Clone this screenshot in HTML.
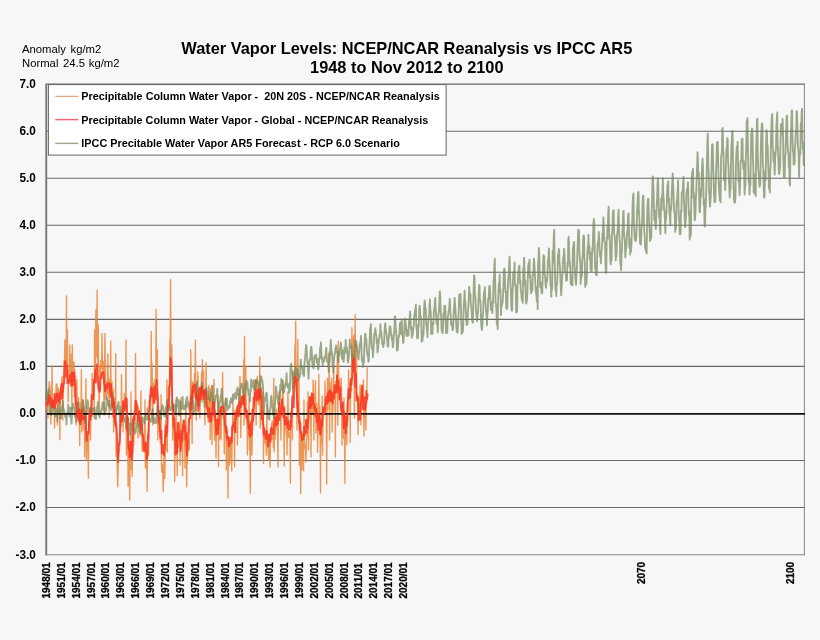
<!DOCTYPE html>
<html><head><meta charset="utf-8"><title>Water Vapor Levels</title>
<style>
html,body{margin:0;padding:0;background:#f7f7f7;}
body{width:820px;height:640px;overflow:hidden;}
svg{display:block;font-family:"Liberation Sans",sans-serif;}
.t{font-weight:bold;font-size:15.7px;fill:#000;}
.n{font-size:11.3px;fill:#000;}
.yl text{font-weight:bold;font-size:11.5px;fill:#000;}
.xl text{font-weight:bold;font-size:10px;fill:#000;stroke:#000;stroke-width:0.25px;}
.lg text{font-weight:bold;font-size:10.9px;fill:#000;}
.grid line{stroke:#686868;stroke-width:1.1;}
</style></head><body>
<svg width="820" height="640" viewBox="0 0 820 640">
<defs><filter id="soft" x="-2%" y="-2%" width="104%" height="104%"><feGaussianBlur stdDeviation="0.45"/></filter></defs>
<rect width="820" height="640" fill="#f7f7f7"/>
<g filter="url(#soft)">
<text class="t" x="406.8" y="53.5" text-anchor="middle" textLength="451" lengthAdjust="spacingAndGlyphs">Water Vapor Levels: NCEP/NCAR Reanalysis vs IPCC AR5</text>
<text class="t" x="406.8" y="73.1" text-anchor="middle" textLength="193.5" lengthAdjust="spacingAndGlyphs">1948 to Nov 2012 to 2100</text>
<text class="n" y="53.2"><tspan x="22">Anomaly</tspan> <tspan x="70.5">kg/m2</tspan></text>
<text class="n" y="67.1"><tspan x="22">Normal</tspan> <tspan x="63">24.5</tspan> <tspan x="88.8">kg/m2</tspan></text>
<g class="grid"><line x1="46" x2="804.9" y1="507.51" y2="507.51"/><line x1="46" x2="804.9" y1="460.47" y2="460.47"/><line x1="46" x2="804.9" y1="366.39" y2="366.39"/><line x1="46" x2="804.9" y1="319.35" y2="319.35"/><line x1="46" x2="804.9" y1="272.31" y2="272.31"/><line x1="46" x2="804.9" y1="225.27" y2="225.27"/><line x1="46" x2="804.9" y1="178.23" y2="178.23"/><line x1="46" x2="804.9" y1="131.19" y2="131.19"/><line x1="46" x2="804.9" y1="84.15" y2="84.15"/><line x1="45.5" x2="804.9" y1="554.7" y2="554.7" style="stroke:#888"/></g>
<line x1="804.4" x2="804.4" y1="83.7" y2="555.2" stroke="#888" stroke-width="1"/>
<line x1="46.25" x2="46.25" y1="83.7" y2="555.2" stroke="#787878" stroke-width="1.9"/>
<g fill="none" stroke-linejoin="round" stroke-linecap="round">
<path d="M46.3,402.2 L46.7,408.0 L47.1,399.6 L47.5,406.1 L48.0,418.0 L48.4,393.1 L48.8,389.8 L49.2,381.6 L49.6,395.4 L50.0,386.3 L50.4,391.8 L50.8,424.0 L51.3,399.8 L51.7,392.1 L52.1,366.0 L52.5,407.7 L52.9,407.4 L53.3,399.5 L53.7,408.7 L54.1,400.8 L54.6,428.0 L55.0,404.5 L55.4,396.0 L55.8,398.1 L56.2,384.1 L56.6,397.1 L57.0,384.0 L57.4,425.0 L57.9,391.2 L58.3,388.3 L58.7,398.6 L59.1,394.7 L59.5,397.6 L59.9,439.5 L60.3,390.0 L60.8,395.4 L61.2,392.6 L61.6,381.6 L62.0,378.0 L62.4,376.3 L62.8,420.0 L63.2,378.7 L63.6,376.0 L64.1,360.5 L64.5,360.7 L64.9,340.0 L65.3,363.8 L65.7,354.1 L66.1,363.3 L66.5,295.8 L66.9,365.8 L67.4,330.0 L67.8,370.8 L68.2,402.0 L68.6,371.0 L69.0,371.9 L69.4,368.5 L69.8,345.0 L70.3,382.1 L70.7,361.5 L71.1,370.2 L71.5,354.2 L71.9,410.0 L72.3,345.0 L72.7,373.6 L73.1,362.4 L73.6,371.8 L74.0,362.0 L74.4,397.1 L74.8,369.8 L75.2,382.9 L75.6,375.8 L76.0,425.0 L76.4,398.3 L76.9,380.0 L77.3,411.1 L77.7,413.5 L78.1,411.7 L78.5,397.6 L78.9,414.4 L79.3,418.1 L79.7,445.4 L80.2,402.5 L80.6,414.7 L81.0,416.0 L81.4,369.6 L81.8,432.0 L82.2,405.0 L82.6,400.0 L83.1,401.5 L83.5,430.1 L83.9,406.8 L84.3,413.9 L84.7,457.0 L85.1,412.8 L85.5,417.8 L85.9,379.0 L86.4,460.0 L86.8,439.3 L87.2,451.1 L87.6,437.3 L88.0,447.1 L88.4,478.2 L88.8,421.5 L89.2,430.4 L89.7,423.3 L90.1,408.9 L90.5,440.0 L90.9,416.6 L91.3,394.4 L91.7,412.6 L92.1,373.5 L92.6,392.8 L93.0,380.1 L93.4,389.7 L93.8,385.7 L94.2,418.0 L94.6,330.0 L95.0,380.2 L95.4,355.8 L95.9,310.0 L96.3,337.0 L96.7,357.1 L97.1,290.0 L97.5,359.0 L97.9,370.9 L98.3,325.0 L98.7,383.7 L99.2,410.0 L99.6,381.7 L100.0,365.1 L100.4,379.2 L100.8,360.3 L101.2,361.9 L101.6,368.0 L102.0,333.5 L102.5,372.3 L102.9,370.6 L103.3,361.2 L103.7,372.6 L104.1,415.0 L104.5,382.6 L104.9,333.5 L105.4,368.7 L105.8,399.1 L106.2,385.3 L106.6,381.6 L107.0,393.4 L107.4,394.9 L107.8,354.0 L108.2,386.4 L108.7,383.0 L109.1,418.0 L109.5,379.0 L109.9,381.9 L110.3,388.1 L110.7,341.0 L111.1,393.6 L111.5,394.7 L112.0,381.4 L112.4,398.5 L112.8,396.7 L113.2,389.3 L113.6,432.0 L114.0,398.0 L114.4,401.3 L114.8,425.4 L115.3,414.1 L115.7,353.6 L116.1,455.0 L116.5,457.0 L116.9,447.9 L117.3,472.7 L117.7,486.8 L118.2,467.0 L118.6,449.7 L119.0,452.6 L119.4,450.0 L119.8,445.4 L120.2,437.1 L120.6,419.3 L121.0,426.8 L121.5,374.5 L121.9,411.8 L122.3,420.1 L122.7,400.6 L123.1,432.0 L123.5,405.5 L123.9,411.5 L124.3,393.4 L124.8,396.4 L125.2,406.9 L125.6,397.7 L126.0,340.0 L126.4,455.0 L126.8,403.6 L127.2,425.9 L127.7,428.5 L128.1,486.4 L128.5,447.3 L128.9,444.8 L129.3,448.7 L129.7,500.0 L130.1,458.0 L130.5,462.0 L131.0,392.0 L131.4,470.0 L131.8,437.7 L132.2,476.6 L132.6,434.6 L133.0,452.2 L133.4,417.5 L133.8,445.0 L134.3,414.6 L134.7,424.4 L135.1,423.9 L135.5,353.6 L135.9,404.8 L136.3,409.7 L136.7,402.1 L137.1,403.4 L137.6,405.3 L138.0,438.0 L138.4,407.3 L138.8,427.5 L139.2,418.1 L139.6,413.7 L140.0,436.1 L140.5,430.0 L140.9,391.0 L141.3,431.7 L141.7,420.6 L142.1,451.0 L142.5,433.5 L142.9,438.6 L143.3,451.3 L143.8,440.0 L144.2,452.2 L144.6,438.4 L145.0,400.0 L145.4,468.0 L145.8,452.5 L146.2,453.4 L146.6,450.1 L147.1,491.3 L147.5,452.0 L147.9,449.4 L148.3,430.8 L148.7,455.0 L149.1,418.5 L149.5,415.5 L150.0,394.8 L150.4,410.3 L150.8,403.3 L151.2,331.5 L151.6,385.0 L152.0,362.7 L152.4,381.4 L152.8,425.0 L153.3,383.2 L153.7,401.7 L154.1,387.7 L154.5,397.5 L154.9,379.0 L155.3,392.1 L155.7,382.7 L156.1,309.5 L156.6,373.6 L157.0,383.7 L157.4,350.0 L157.8,440.0 L158.2,396.5 L158.6,423.2 L159.0,411.4 L159.4,431.7 L159.9,422.1 L160.3,443.9 L160.7,431.7 L161.1,395.0 L161.5,468.0 L161.9,472.3 L162.3,464.0 L162.8,471.4 L163.2,491.9 L163.6,475.9 L164.0,452.0 L164.4,459.7 L164.8,478.6 L165.2,456.8 L165.6,420.3 L166.1,450.3 L166.5,436.3 L166.9,380.0 L167.3,452.0 L167.7,407.7 L168.1,406.3 L168.5,385.4 L168.9,385.3 L169.4,396.0 L169.8,340.0 L170.2,341.7 L170.6,279.4 L171.0,367.0 L171.4,381.0 L171.8,345.0 L172.2,379.5 L172.7,440.0 L173.1,408.5 L173.5,420.7 L173.9,413.1 L174.3,436.7 L174.7,481.5 L175.1,441.9 L175.6,452.7 L176.0,400.0 L176.4,443.6 L176.8,434.0 L177.2,475.7 L177.6,438.5 L178.0,436.0 L178.4,447.1 L178.9,422.3 L179.3,427.1 L179.7,425.9 L180.1,465.0 L180.5,423.6 L180.9,398.0 L181.3,448.5 L181.7,444.4 L182.2,437.6 L182.6,475.7 L183.0,433.5 L183.4,420.4 L183.8,425.2 L184.2,429.3 L184.6,440.7 L185.1,468.0 L185.5,435.6 L185.9,402.0 L186.3,459.6 L186.7,486.8 L187.1,450.6 L187.5,463.7 L187.9,440.1 L188.4,444.1 L188.8,440.8 L189.2,450.0 L189.6,417.0 L190.0,403.8 L190.4,399.1 L190.8,349.7 L191.2,387.4 L191.7,384.3 L192.1,443.4 L192.5,381.9 L192.9,384.9 L193.3,398.2 L193.7,382.5 L194.1,396.1 L194.5,373.2 L195.0,377.9 L195.4,340.0 L195.8,397.3 L196.2,420.0 L196.6,384.0 L197.0,405.2 L197.4,387.6 L197.9,372.0 L198.3,406.3 L198.7,393.3 L199.1,398.7 L199.5,394.5 L199.9,418.0 L200.3,388.5 L200.7,388.0 L201.2,387.0 L201.6,372.2 L202.0,402.3 L202.4,359.8 L202.8,370.5 L203.2,379.1 L203.6,371.0 L204.0,393.6 L204.5,391.8 L204.9,425.0 L205.3,389.2 L205.7,399.0 L206.1,362.8 L206.5,405.1 L206.9,397.7 L207.4,412.4 L207.8,395.5 L208.2,422.2 L208.6,385.5 L209.0,420.7 L209.4,405.8 L209.8,388.0 L210.2,439.5 L210.7,398.6 L211.1,426.7 L211.5,392.6 L211.9,444.4 L212.3,407.1 L212.7,409.8 L213.1,385.5 L213.5,397.6 L214.0,379.4 L214.4,440.0 L214.8,411.4 L215.2,432.0 L215.6,414.4 L216.0,458.0 L216.4,426.4 L216.8,428.8 L217.3,426.7 L217.7,427.2 L218.1,396.0 L218.5,466.5 L218.9,422.2 L219.3,422.6 L219.7,438.8 L220.2,418.0 L220.6,406.9 L221.0,440.0 L221.4,419.6 L221.8,410.8 L222.2,408.9 L222.6,372.5 L223.0,411.0 L223.5,418.8 L223.9,412.6 L224.3,454.0 L224.7,416.8 L225.1,425.9 L225.5,429.0 L225.9,398.0 L226.3,470.0 L226.8,431.4 L227.2,441.4 L227.6,429.8 L228.0,498.0 L228.4,447.2 L228.8,454.2 L229.2,440.4 L229.6,465.0 L230.1,459.8 L230.5,449.3 L230.9,442.1 L231.3,438.0 L231.7,471.0 L232.1,444.9 L232.5,431.1 L233.0,400.0 L233.4,430.2 L233.8,423.9 L234.2,426.5 L234.6,467.0 L235.0,409.9 L235.4,427.3 L235.8,411.0 L236.3,432.6 L236.7,408.0 L237.1,425.3 L237.5,445.0 L237.9,408.6 L238.3,412.2 L238.7,402.3 L239.1,393.3 L239.6,402.4 L240.0,376.4 L240.4,406.9 L240.8,437.6 L241.2,408.3 L241.6,396.1 L242.0,398.9 L242.5,402.3 L242.9,405.0 L243.3,382.1 L243.7,360.0 L244.1,425.0 L244.5,336.4 L244.9,404.9 L245.3,411.2 L245.8,366.0 L246.2,408.6 L246.6,418.2 L247.0,424.0 L247.4,455.0 L247.8,431.7 L248.2,414.2 L248.6,435.1 L249.1,398.0 L249.5,450.6 L249.9,432.8 L250.3,493.2 L250.7,420.4 L251.1,436.9 L251.5,430.3 L251.9,455.0 L252.4,431.4 L252.8,425.1 L253.2,408.0 L253.6,417.4 L254.0,413.3 L254.4,396.1 L254.8,380.0 L255.3,408.5 L255.7,379.7 L256.1,425.0 L256.5,393.8 L256.9,400.2 L257.3,376.3 L257.7,395.3 L258.1,403.7 L258.6,404.7 L259.0,403.0 L259.4,390.7 L259.8,357.0 L260.2,428.0 L260.6,389.2 L261.0,418.5 L261.4,387.4 L261.9,413.9 L262.3,424.8 L262.7,412.4 L263.1,392.0 L263.5,463.4 L263.9,425.9 L264.3,430.3 L264.8,433.6 L265.2,443.5 L265.6,442.2 L266.0,444.3 L266.4,455.0 L266.8,404.0 L267.2,436.9 L267.6,446.0 L268.1,448.2 L268.5,458.7 L268.9,460.2 L269.3,434.7 L269.7,443.5 L270.1,467.0 L270.5,438.6 L270.9,433.3 L271.4,423.9 L271.8,439.4 L272.2,420.7 L272.6,422.9 L273.0,430.6 L273.4,447.7 L273.8,378.4 L274.2,452.0 L274.7,416.3 L275.1,439.5 L275.5,433.6 L275.9,426.5 L276.3,409.1 L276.7,429.3 L277.1,418.8 L277.6,429.2 L278.0,467.0 L278.4,406.4 L278.8,420.6 L279.2,392.0 L279.6,404.3 L280.0,397.6 L280.4,390.7 L280.9,440.0 L281.3,402.8 L281.7,408.0 L282.1,408.7 L282.5,405.0 L282.9,380.0 L283.3,408.6 L283.7,409.1 L284.2,466.0 L284.6,406.2 L285.0,424.5 L285.4,412.9 L285.8,424.7 L286.2,433.7 L286.6,424.2 L287.0,455.0 L287.5,423.2 L287.9,392.0 L288.3,413.5 L288.7,437.4 L289.1,436.6 L289.5,434.5 L289.9,432.6 L290.4,483.0 L290.8,411.8 L291.2,414.2 L291.6,419.4 L292.0,408.3 L292.4,440.0 L292.8,372.0 L293.2,394.8 L293.7,385.7 L294.1,373.3 L294.5,382.4 L294.9,345.0 L295.3,359.4 L295.7,321.2 L296.1,380.3 L296.5,386.7 L297.0,430.0 L297.4,398.6 L297.8,339.3 L298.2,396.6 L298.6,411.0 L299.0,380.0 L299.4,465.0 L299.9,416.6 L300.3,449.7 L300.7,493.8 L301.1,432.1 L301.5,454.4 L301.9,470.0 L302.3,446.5 L302.7,434.3 L303.2,444.3 L303.6,470.8 L304.0,400.0 L304.4,446.2 L304.8,443.4 L305.2,448.7 L305.6,450.1 L306.0,462.0 L306.5,438.9 L306.9,439.0 L307.3,401.6 L307.7,423.5 L308.1,392.0 L308.5,450.0 L308.9,412.1 L309.3,397.6 L309.8,407.4 L310.2,402.4 L310.6,397.5 L311.0,457.0 L311.4,400.2 L311.8,392.6 L312.2,395.1 L312.7,413.4 L313.1,380.0 L313.5,387.5 L313.9,440.0 L314.3,394.1 L314.7,407.5 L315.1,407.1 L315.5,380.6 L316.0,432.6 L316.4,424.9 L316.8,403.6 L317.2,416.7 L317.6,452.0 L318.0,430.5 L318.4,420.0 L318.8,374.5 L319.3,420.2 L319.7,405.9 L320.1,418.4 L320.5,492.7 L320.9,426.3 L321.3,444.0 L321.7,429.0 L322.2,396.0 L322.6,455.0 L323.0,422.9 L323.4,411.7 L323.8,409.8 L324.2,412.9 L324.6,414.6 L325.0,381.0 L325.5,406.5 L325.9,408.7 L326.3,414.0 L326.7,484.0 L327.1,408.3 L327.5,378.5 L327.9,409.5 L328.3,380.9 L328.8,395.5 L329.2,352.0 L329.6,440.0 L330.0,395.8 L330.4,395.6 L330.8,383.2 L331.2,394.3 L331.6,378.0 L332.1,432.0 L332.5,393.4 L332.9,411.7 L333.3,399.1 L333.7,365.7 L334.1,393.7 L334.5,390.5 L335.0,393.6 L335.4,457.0 L335.8,381.6 L336.2,391.9 L336.6,381.2 L337.0,375.2 L337.4,356.3 L337.8,425.0 L338.3,341.3 L338.7,381.1 L339.1,378.1 L339.5,385.8 L339.9,400.8 L340.3,384.0 L340.7,385.9 L341.1,378.0 L341.6,391.0 L342.0,445.0 L342.4,415.5 L342.8,405.0 L343.2,410.2 L343.6,438.5 L344.0,398.0 L344.4,425.6 L344.9,483.5 L345.3,418.0 L345.7,430.0 L346.1,420.6 L346.5,433.2 L346.9,445.0 L347.3,403.4 L347.8,421.2 L348.2,398.6 L348.6,370.0 L349.0,387.5 L349.4,391.7 L349.8,381.4 L350.2,442.5 L350.6,378.8 L351.1,380.6 L351.5,390.9 L351.9,327.6 L352.3,361.0 L352.7,371.0 L353.1,355.4 L353.5,336.9 L353.9,335.0 L354.4,418.0 L354.8,345.5 L355.2,314.5 L355.6,381.4 L356.0,376.5 L356.4,345.0 L356.8,397.1 L357.3,393.7 L357.7,402.5 L358.1,434.6 L358.5,397.9 L358.9,405.0 L359.3,418.8 L359.7,407.1 L360.1,385.0 L360.6,390.5 L361.0,425.0 L361.4,398.3 L361.8,390.2 L362.2,384.8 L362.6,398.4 L363.0,394.6 L363.4,380.0 L363.9,436.0 L364.3,411.2 L364.7,417.7 L365.1,410.2 L365.5,404.2 L365.9,430.0 L366.3,399.9 L366.7,403.2 L367.2,370.5 L367.6,366.4" stroke="#ec8538" stroke-width="1.35" opacity="0.85"/>
<path d="M46.3,399.8 L46.7,392.6 L47.1,399.5 L47.5,396.1 L48.0,396.1 L48.4,389.3 L48.8,404.4 L49.2,401.4 L49.6,403.2 L50.0,412.9 L50.4,412.1 L50.8,414.1 L51.3,415.2 L51.7,402.3 L52.1,412.6 L52.5,403.0 L52.9,403.0 L53.3,404.1 L53.7,400.7 L54.1,408.0 L54.6,412.5 L55.0,412.4 L55.4,416.6 L55.8,410.7 L56.2,410.5 L56.6,409.1 L57.0,412.0 L57.4,421.5 L57.9,407.4 L58.3,404.7 L58.7,406.6 L59.1,412.9 L59.5,414.0 L59.9,409.4 L60.3,418.5 L60.8,415.7 L61.2,418.1 L61.6,406.8 L62.0,405.9 L62.4,411.3 L62.8,400.9 L63.2,407.4 L63.6,408.8 L64.1,410.7 L64.5,413.5 L64.9,414.9 L65.3,417.1 L65.7,415.0 L66.1,415.5 L66.5,424.5 L66.9,416.0 L67.4,412.2 L67.8,409.6 L68.2,404.6 L68.6,409.4 L69.0,410.1 L69.4,416.2 L69.8,411.3 L70.3,407.6 L70.7,414.6 L71.1,418.9 L71.5,423.6 L71.9,416.1 L72.3,406.9 L72.7,407.5 L73.1,403.8 L73.6,407.9 L74.0,407.9 L74.4,407.2 L74.8,416.3 L75.2,416.9 L75.6,416.3 L76.0,417.0 L76.4,421.7 L76.9,412.8 L77.3,409.2 L77.7,411.9 L78.1,402.0 L78.5,411.7 L78.9,408.4 L79.3,410.0 L79.7,414.7 L80.2,421.5 L80.6,413.6 L81.0,421.4 L81.4,417.4 L81.8,407.8 L82.2,412.8 L82.6,404.0 L83.1,400.1 L83.5,404.5 L83.9,408.1 L84.3,415.4 L84.7,413.2 L85.1,423.0 L85.5,419.5 L85.9,413.9 L86.4,411.9 L86.8,413.0 L87.2,402.8 L87.6,400.2 L88.0,403.3 L88.4,410.1 L88.8,411.0 L89.2,412.4 L89.7,413.3 L90.1,407.9 L90.5,415.1 L90.9,407.9 L91.3,416.0 L91.7,411.3 L92.1,409.4 L92.6,409.7 L93.0,408.5 L93.4,409.1 L93.8,411.2 L94.2,409.2 L94.6,407.7 L95.0,414.5 L95.4,418.9 L95.9,419.1 L96.3,413.0 L96.7,412.9 L97.1,406.6 L97.5,407.0 L97.9,402.0 L98.3,406.2 L98.7,415.5 L99.2,413.3 L99.6,417.7 L100.0,411.3 L100.4,412.3 L100.8,412.4 L101.2,412.9 L101.6,407.9 L102.0,410.0 L102.5,402.6 L102.9,408.0 L103.3,407.7 L103.7,402.4 L104.1,409.9 L104.5,408.3 L104.9,413.8 L105.4,408.8 L105.8,411.0 L106.2,410.3 L106.6,396.5 L107.0,397.4 L107.4,402.6 L107.8,400.5 L108.2,405.5 L108.7,404.6 L109.1,400.9 L109.5,407.7 L109.9,405.0 L110.3,407.6 L110.7,409.0 L111.1,410.2 L111.5,400.8 L112.0,399.0 L112.4,392.6 L112.8,406.4 L113.2,397.8 L113.6,402.1 L114.0,404.2 L114.4,408.7 L114.8,411.8 L115.3,416.9 L115.7,413.2 L116.1,412.5 L116.5,407.0 L116.9,406.8 L117.3,409.6 L117.7,404.3 L118.2,407.2 L118.6,401.9 L119.0,413.1 L119.4,414.3 L119.8,419.7 L120.2,406.8 L120.6,414.9 L121.0,414.2 L121.5,414.1 L121.9,411.0 L122.3,413.4 L122.7,415.1 L123.1,414.4 L123.5,415.5 L123.9,417.7 L124.3,418.9 L124.8,422.0 L125.2,420.5 L125.6,417.6 L126.0,428.8 L126.4,416.4 L126.8,420.9 L127.2,415.8 L127.7,419.0 L128.1,418.5 L128.5,424.1 L128.9,423.2 L129.3,423.3 L129.7,430.4 L130.1,434.8 L130.5,431.6 L131.0,429.5 L131.4,423.1 L131.8,424.5 L132.2,424.6 L132.6,419.7 L133.0,426.7 L133.4,426.1 L133.8,429.6 L134.3,428.5 L134.7,430.2 L135.1,433.5 L135.5,432.9 L135.9,431.2 L136.3,423.9 L136.7,422.7 L137.1,423.1 L137.6,415.3 L138.0,426.6 L138.4,426.0 L138.8,426.6 L139.2,425.3 L139.6,431.7 L140.0,428.3 L140.5,433.3 L140.9,426.7 L141.3,418.2 L141.7,424.3 L142.1,418.3 L142.5,417.1 L142.9,418.3 L143.3,419.5 L143.8,421.4 L144.2,423.6 L144.6,422.8 L145.0,418.5 L145.4,415.9 L145.8,416.3 L146.2,418.4 L146.6,418.2 L147.1,419.8 L147.5,408.2 L147.9,414.3 L148.3,414.9 L148.7,415.6 L149.1,418.8 L149.5,418.5 L150.0,419.0 L150.4,419.4 L150.8,421.7 L151.2,421.6 L151.6,421.4 L152.0,412.0 L152.4,409.0 L152.8,413.5 L153.3,414.2 L153.7,422.9 L154.1,418.4 L154.5,423.2 L154.9,419.2 L155.3,420.1 L155.7,420.5 L156.1,423.2 L156.6,413.5 L157.0,415.5 L157.4,405.7 L157.8,409.2 L158.2,411.7 L158.6,413.6 L159.0,417.5 L159.4,418.7 L159.9,410.8 L160.3,419.2 L160.7,411.4 L161.1,418.8 L161.5,410.8 L161.9,407.8 L162.3,405.0 L162.8,406.5 L163.2,408.7 L163.6,408.1 L164.0,414.7 L164.4,414.3 L164.8,416.6 L165.2,414.5 L165.6,414.9 L166.1,406.5 L166.5,418.5 L166.9,400.8 L167.3,399.9 L167.7,406.6 L168.1,410.7 L168.5,406.0 L168.9,405.0 L169.4,407.7 L169.8,410.0 L170.2,407.2 L170.6,408.2 L171.0,410.4 L171.4,408.8 L171.8,401.3 L172.2,404.3 L172.7,406.3 L173.1,409.8 L173.5,405.6 L173.9,404.6 L174.3,410.7 L174.7,413.7 L175.1,405.3 L175.6,413.2 L176.0,411.1 L176.4,403.1 L176.8,397.5 L177.2,400.3 L177.6,402.0 L178.0,406.4 L178.4,399.8 L178.9,415.1 L179.3,415.6 L179.7,405.3 L180.1,401.1 L180.5,406.3 L180.9,407.1 L181.3,409.2 L181.7,406.0 L182.2,402.2 L182.6,396.8 L183.0,406.8 L183.4,409.1 L183.8,406.0 L184.2,408.9 L184.6,409.0 L185.1,409.2 L185.5,404.4 L185.9,407.1 L186.3,398.6 L186.7,406.4 L187.1,396.9 L187.5,403.1 L187.9,401.1 L188.4,406.7 L188.8,406.1 L189.2,410.0 L189.6,406.0 L190.0,403.0 L190.4,405.9 L190.8,402.7 L191.2,396.0 L191.7,396.5 L192.1,391.5 L192.5,399.3 L192.9,400.2 L193.3,403.6 L193.7,414.4 L194.1,407.3 L194.5,408.7 L195.0,410.5 L195.4,405.1 L195.8,399.3 L196.2,400.6 L196.6,397.7 L197.0,381.5 L197.4,392.7 L197.9,395.2 L198.3,396.7 L198.7,405.0 L199.1,400.4 L199.5,405.9 L199.9,398.5 L200.3,396.6 L200.7,397.0 L201.2,388.6 L201.6,387.6 L202.0,382.2 L202.4,384.2 L202.8,392.3 L203.2,394.1 L203.6,390.5 L204.0,392.4 L204.5,406.6 L204.9,393.6 L205.3,391.7 L205.7,394.4 L206.1,388.1 L206.5,387.9 L206.9,391.3 L207.4,393.3 L207.8,391.7 L208.2,399.2 L208.6,395.9 L209.0,397.2 L209.4,398.9 L209.8,400.4 L210.2,401.2 L210.7,396.7 L211.1,389.6 L211.5,390.0 L211.9,385.7 L212.3,388.2 L212.7,393.9 L213.1,401.4 L213.5,401.9 L214.0,408.0 L214.4,410.5 L214.8,403.7 L215.2,399.8 L215.6,395.7 L216.0,396.3 L216.4,395.7 L216.8,396.6 L217.3,388.9 L217.7,400.7 L218.1,404.5 L218.5,412.2 L218.9,406.8 L219.3,407.5 L219.7,401.5 L220.2,402.2 L220.6,397.6 L221.0,394.9 L221.4,392.7 L221.8,388.8 L222.2,396.3 L222.6,401.9 L223.0,406.5 L223.5,406.3 L223.9,412.8 L224.3,414.3 L224.7,402.9 L225.1,405.9 L225.5,400.0 L225.9,398.8 L226.3,400.9 L226.8,398.7 L227.2,405.8 L227.6,410.2 L228.0,406.3 L228.4,405.7 L228.8,407.1 L229.2,407.9 L229.6,407.2 L230.1,401.1 L230.5,403.5 L230.9,398.5 L231.3,401.2 L231.7,400.9 L232.1,402.9 L232.5,397.6 L233.0,394.5 L233.4,394.1 L233.8,399.7 L234.2,395.9 L234.6,394.4 L235.0,397.4 L235.4,392.8 L235.8,396.5 L236.3,398.8 L236.7,389.8 L237.1,392.5 L237.5,387.4 L237.9,394.7 L238.3,392.5 L238.7,392.0 L239.1,389.6 L239.6,404.3 L240.0,390.4 L240.4,387.7 L240.8,388.1 L241.2,385.7 L241.6,383.4 L242.0,384.7 L242.5,384.8 L242.9,393.3 L243.3,393.7 L243.7,390.0 L244.1,401.5 L244.5,391.5 L244.9,394.6 L245.3,383.6 L245.8,382.2 L246.2,382.4 L246.6,380.7 L247.0,388.4 L247.4,382.1 L247.8,390.7 L248.2,388.6 L248.6,395.7 L249.1,395.6 L249.5,393.4 L249.9,401.3 L250.3,390.3 L250.7,391.2 L251.1,379.5 L251.5,381.5 L251.9,383.7 L252.4,386.6 L252.8,387.0 L253.2,387.0 L253.6,380.5 L254.0,389.8 L254.4,386.2 L254.8,386.4 L255.3,387.1 L255.7,388.9 L256.1,380.3 L256.5,380.1 L256.9,379.8 L257.3,382.3 L257.7,383.4 L258.1,382.2 L258.6,384.3 L259.0,388.1 L259.4,398.0 L259.8,392.1 L260.2,390.4 L260.6,376.2 L261.0,378.1 L261.4,376.6 L261.9,380.9 L262.3,380.3 L262.7,383.6 L263.1,388.2 L263.5,399.3 L263.9,412.4 L264.3,404.7 L264.8,398.6 L265.2,401.1 L265.6,396.3 L266.0,395.9 L266.4,392.8 L266.8,393.0 L267.2,400.9 L267.6,409.5 L268.1,411.9 L268.5,418.4 L268.9,412.2 L269.3,419.8 L269.7,413.5 L270.1,408.7 L270.5,407.1 L270.9,397.5 L271.4,395.7 L271.8,399.9 L272.2,404.9 L272.6,409.5 L273.0,414.6 L273.4,414.9 L273.8,412.7 L274.2,418.1 L274.7,406.8 L275.1,404.0 L275.5,395.7 L275.9,386.7 L276.3,388.8 L276.7,393.0 L277.1,397.5 L277.6,397.8 L278.0,402.2 L278.4,404.2 L278.8,404.4 L279.2,396.5 L279.6,394.4 L280.0,390.1 L280.4,384.8 L280.9,390.0 L281.3,379.0 L281.7,384.4 L282.1,387.6 L282.5,381.0 L282.9,392.6 L283.3,390.0 L283.7,392.6 L284.2,391.4 L284.6,385.1 L285.0,387.4 L285.4,383.6 L285.8,383.5 L286.2,379.5 L286.6,373.1 L287.0,385.4 L287.5,386.2 L287.9,387.7 L288.3,387.9 L288.7,384.1 L289.1,392.6 L289.5,385.1 L289.9,389.9 L290.4,373.0 L290.8,364.5 L291.2,363.8 L291.6,373.4 L292.0,372.4 L292.4,370.6 L292.8,388.4 L293.2,387.9 L293.7,386.7 L294.1,384.1 L294.5,376.0 L294.9,371.3 L295.3,375.2 L295.7,367.0 L296.1,368.6 L296.5,368.6 L297.0,374.7 L297.4,374.8 L297.8,369.4 L298.2,380.9 L298.6,377.6 L299.0,379.2 L299.4,374.8 L299.9,376.7 L300.3,368.2 L300.7,359.7 L301.1,363.8 L301.5,367.3 L301.9,365.9 L302.3,366.6 L302.7,374.2 L303.2,369.2 L303.6,373.3 L304.0,376.0 L304.4,365.8 L304.8,360.3 L305.2,355.9 L305.6,352.4 L306.0,345.0 L306.5,346.4 L306.9,354.0 L307.3,360.7 L307.7,363.7 L308.1,368.4 L308.5,378.7 L308.9,370.1 L309.3,362.5 L309.8,359.4 L310.2,359.8 L310.6,352.4 L311.0,347.3 L311.4,346.8 L311.8,351.7 L312.2,361.5 L312.7,366.8 L313.1,365.3 L313.5,368.5 L313.9,367.1 L314.3,357.4 L314.7,355.7 L315.1,358.3 L315.5,357.6 L316.0,354.7 L316.4,358.2 L316.8,362.6 L317.2,362.0 L317.6,359.4 L318.0,369.5 L318.4,368.8 L318.8,365.2 L319.3,357.4 L319.7,358.8 L320.1,347.5 L320.5,351.3 L320.9,342.3 L321.3,351.2 L321.7,359.0 L322.2,357.6 L322.6,365.1 L323.0,361.1 L323.4,362.2 L323.8,360.4 L324.2,361.5 L324.6,356.5 L325.0,358.1 L325.5,357.1 L325.9,351.2 L326.3,347.7 L326.7,356.5 L327.1,361.6 L327.5,361.2 L327.9,361.6 L328.3,364.8 L328.8,371.8 L329.2,354.1 L329.6,361.9 L330.0,353.3 L330.4,346.9 L330.8,339.8 L331.2,346.4 L331.6,354.2 L332.1,352.1 L332.5,364.5 L332.9,366.0 L333.3,372.8 L333.7,363.8 L334.1,358.3 L334.5,355.0 L335.0,353.3 L335.4,348.2 L335.8,347.5 L336.2,345.4 L336.6,347.5 L337.0,353.0 L337.4,352.7 L337.8,357.3 L338.3,362.4 L338.7,352.2 L339.1,351.8 L339.5,355.8 L339.9,348.8 L340.3,348.3 L340.7,342.5 L341.1,344.7 L341.6,349.9 L342.0,358.8 L342.4,356.5 L342.8,350.7 L343.2,358.9 L343.6,361.8 L344.0,358.5 L344.4,347.8 L344.9,348.3 L345.3,352.8 L345.7,340.0 L346.1,346.7 L346.5,346.8 L346.9,348.0 L347.3,353.7 L347.8,361.1 L348.2,362.6 L348.6,357.4 L349.0,355.5 L349.4,348.5 L349.8,339.4 L350.2,344.3 L350.6,344.8 L351.1,347.8 L351.5,346.4 L351.9,357.0 L352.3,360.0 L352.7,358.3 L353.1,361.1 L353.5,354.6 L353.9,354.7 L354.4,356.8 L354.8,344.2 L355.2,340.5 L355.6,346.0 L356.0,345.1 L356.4,341.5 L356.8,347.2 L357.3,350.2 L357.7,352.9 L358.1,357.1 L358.5,359.6 L358.9,353.3 L359.3,350.5 L359.7,344.0 L360.1,343.4 L360.6,340.6 L361.0,336.0 L361.4,345.8 L361.8,360.9 L362.2,360.9 L362.6,357.8 L363.0,367.0 L363.4,362.3 L363.9,363.0 L364.3,348.6 L364.7,342.1 L365.1,334.1 L365.5,333.8 L365.9,341.0 L366.3,338.9 L366.7,348.4 L367.2,353.6 L367.6,356.1 L368.0,355.8 L368.4,361.7 L368.8,361.3 L369.2,348.1 L369.6,343.4 L370.1,329.1 L370.5,328.0 L370.9,324.2 L371.3,338.2 L371.7,345.9 L372.1,349.1 L372.5,348.3 L372.9,357.2 L373.4,351.7 L373.8,343.3 L374.2,333.6 L374.6,334.6 L375.0,330.7 L375.4,328.1 L375.8,332.8 L376.2,335.0 L376.7,343.1 L377.1,339.4 L377.5,352.5 L377.9,351.3 L378.3,344.8 L378.7,343.2 L379.1,339.2 L379.6,334.6 L380.0,334.6 L380.4,324.2 L380.8,334.4 L381.2,331.6 L381.6,337.0 L382.0,339.7 L382.4,344.2 L382.9,344.1 L383.3,347.0 L383.7,342.5 L384.1,343.6 L384.5,332.9 L384.9,326.0 L385.3,323.2 L385.7,328.7 L386.2,332.5 L386.6,334.1 L387.0,338.1 L387.4,343.5 L387.8,346.6 L388.2,346.7 L388.6,339.2 L389.0,336.6 L389.5,328.6 L389.9,326.2 L390.3,326.6 L390.7,329.1 L391.1,335.7 L391.5,334.6 L391.9,340.0 L392.4,339.2 L392.8,347.3 L393.2,344.7 L393.6,337.4 L394.0,333.2 L394.4,329.5 L394.8,316.4 L395.2,316.5 L395.7,327.4 L396.1,331.4 L396.5,336.8 L396.9,350.6 L397.3,350.3 L397.7,350.0 L398.1,345.1 L398.5,335.7 L399.0,336.7 L399.4,333.8 L399.8,324.7 L400.2,322.4 L400.6,324.8 L401.0,333.2 L401.4,334.1 L401.8,319.3 L402.3,335.4 L402.7,335.7 L403.1,343.0 L403.5,341.8 L403.9,334.7 L404.3,331.1 L404.7,320.2 L405.2,318.4 L405.6,322.7 L406.0,326.4 L406.4,335.8 L406.8,329.5 L407.2,334.2 L407.6,336.0 L408.0,333.7 L408.5,335.3 L408.9,321.2 L409.3,324.4 L409.7,317.4 L410.1,311.4 L410.5,318.9 L410.9,328.9 L411.3,326.6 L411.8,337.9 L412.2,333.4 L412.6,335.5 L413.0,331.9 L413.4,327.7 L413.8,326.3 L414.2,315.6 L414.7,314.3 L415.1,309.5 L415.5,309.4 L415.9,304.7 L416.3,325.4 L416.7,329.2 L417.1,338.3 L417.5,336.1 L418.0,338.1 L418.4,324.4 L418.8,326.5 L419.2,309.4 L419.6,305.6 L420.0,308.8 L420.4,315.6 L420.8,316.5 L421.3,320.3 L421.7,341.8 L422.1,335.2 L422.5,340.8 L422.9,331.2 L423.3,336.3 L423.7,329.2 L424.1,309.1 L424.6,300.4 L425.0,302.1 L425.4,312.6 L425.8,308.4 L426.2,323.7 L426.6,327.4 L427.0,329.8 L427.5,337.1 L427.9,323.3 L428.3,321.2 L428.7,316.4 L429.1,315.5 L429.5,305.1 L429.9,299.3 L430.3,308.8 L430.8,312.3 L431.2,334.0 L431.6,323.0 L432.0,329.4 L432.4,333.9 L432.8,322.7 L433.2,324.6 L433.6,317.0 L434.1,308.8 L434.5,308.0 L434.9,300.3 L435.3,297.9 L435.7,310.2 L436.1,314.6 L436.5,323.3 L437.0,324.4 L437.4,324.9 L437.8,332.3 L438.2,319.0 L438.6,312.4 L439.0,311.0 L439.4,299.5 L439.8,291.4 L440.3,296.4 L440.7,312.8 L441.1,313.6 L441.5,329.1 L441.9,331.7 L442.3,332.8 L442.7,333.2 L443.1,325.5 L443.6,313.1 L444.0,316.1 L444.4,305.7 L444.8,306.1 L445.2,306.0 L445.6,317.0 L446.0,333.0 L446.4,318.5 L446.9,322.6 L447.3,332.9 L447.7,317.9 L448.1,315.4 L448.5,311.5 L448.9,311.6 L449.3,306.5 L449.8,298.8 L450.2,308.7 L450.6,314.3 L451.0,322.7 L451.4,325.3 L451.8,322.3 L452.2,327.2 L452.6,330.3 L453.1,327.5 L453.5,317.9 L453.9,309.3 L454.3,304.8 L454.7,297.8 L455.1,305.5 L455.5,311.4 L455.9,317.6 L456.4,328.0 L456.8,332.0 L457.2,332.2 L457.6,332.4 L458.0,324.4 L458.4,317.1 L458.8,308.0 L459.2,294.6 L459.7,294.4 L460.1,306.3 L460.5,294.0 L460.9,305.8 L461.3,324.5 L461.7,334.0 L462.1,327.6 L462.6,332.4 L463.0,329.9 L463.4,317.6 L463.8,304.7 L464.2,300.4 L464.6,290.6 L465.0,300.0 L465.4,302.9 L465.9,313.1 L466.3,319.2 L466.7,325.1 L467.1,321.8 L467.5,324.2 L467.9,312.4 L468.3,307.2 L468.7,300.3 L469.2,286.7 L469.6,292.7 L470.0,296.2 L470.4,293.8 L470.8,304.8 L471.2,305.4 L471.6,310.9 L472.1,319.6 L472.5,322.7 L472.9,322.6 L473.3,303.2 L473.7,286.8 L474.1,275.4 L474.5,275.9 L474.9,293.9 L475.4,297.4 L475.8,307.2 L476.2,313.7 L476.6,315.7 L477.0,321.3 L477.4,317.9 L477.8,313.5 L478.2,307.3 L478.7,294.1 L479.1,285.0 L479.5,285.8 L479.9,299.0 L480.3,300.4 L480.7,305.5 L481.1,321.7 L481.5,328.2 L482.0,330.0 L482.4,324.2 L482.8,315.6 L483.2,311.2 L483.6,298.0 L484.0,292.5 L484.4,292.6 L484.9,287.2 L485.3,300.0 L485.7,306.6 L486.1,311.8 L486.5,314.2 L486.9,325.2 L487.3,317.3 L487.7,311.3 L488.2,298.6 L488.6,299.1 L489.0,291.8 L489.4,285.9 L489.8,286.0 L490.2,293.5 L490.6,305.7 L491.0,310.0 L491.5,305.4 L491.9,302.3 L492.3,313.0 L492.7,303.8 L493.1,302.5 L493.5,281.2 L493.9,277.4 L494.4,266.0 L494.8,258.8 L495.2,281.7 L495.6,303.2 L496.0,304.2 L496.4,309.4 L496.8,324.1 L497.2,317.0 L497.7,329.0 L498.1,300.1 L498.5,291.1 L498.9,283.3 L499.3,289.0 L499.7,274.4 L500.1,292.4 L500.5,289.6 L501.0,315.2 L501.4,302.6 L501.8,306.3 L502.2,303.2 L502.6,302.5 L503.0,295.5 L503.4,287.1 L503.8,271.8 L504.3,268.7 L504.7,268.8 L505.1,284.8 L505.5,292.2 L505.9,291.7 L506.3,308.6 L506.7,296.5 L507.2,308.9 L507.6,297.1 L508.0,283.2 L508.4,277.2 L508.8,273.6 L509.2,263.1 L509.6,256.6 L510.0,271.4 L510.5,286.7 L510.9,290.0 L511.3,306.0 L511.7,310.7 L512.1,310.8 L512.5,295.5 L512.9,282.5 L513.3,272.0 L513.8,275.3 L514.2,271.9 L514.6,262.5 L515.0,285.4 L515.4,284.8 L515.8,288.6 L516.2,312.5 L516.7,304.3 L517.1,311.8 L517.5,285.5 L517.9,281.6 L518.3,272.4 L518.7,269.6 L519.1,265.9 L519.5,265.8 L520.0,283.1 L520.4,280.6 L520.8,290.8 L521.2,292.0 L521.6,297.9 L522.0,300.5 L522.4,298.1 L522.8,302.8 L523.3,268.7 L523.7,267.8 L524.1,257.6 L524.5,269.9 L524.9,285.1 L525.3,280.3 L525.7,296.8 L526.1,303.5 L526.6,302.4 L527.0,298.8 L527.4,292.6 L527.8,278.6 L528.2,265.8 L528.6,263.3 L529.0,267.4 L529.5,259.6 L529.9,277.8 L530.3,275.2 L530.7,288.0 L531.1,293.2 L531.5,283.2 L531.9,288.8 L532.3,290.8 L532.8,274.2 L533.2,275.2 L533.6,266.2 L534.0,258.6 L534.4,265.3 L534.8,271.3 L535.2,280.1 L535.6,287.7 L536.1,293.4 L536.5,295.9 L536.9,301.6 L537.3,286.9 L537.7,309.0 L538.1,262.5 L538.5,258.8 L538.9,247.9 L539.4,259.5 L539.8,275.1 L540.2,287.0 L540.6,282.7 L541.0,285.0 L541.4,292.1 L541.8,293.4 L542.3,292.7 L542.7,277.1 L543.1,265.9 L543.5,255.1 L543.9,255.8 L544.3,256.6 L544.7,274.6 L545.1,275.9 L545.6,284.8 L546.0,287.9 L546.4,282.6 L546.8,282.3 L547.2,279.2 L547.6,271.5 L548.0,259.9 L548.4,258.2 L548.9,248.4 L549.3,260.6 L549.7,266.6 L550.1,271.9 L550.5,285.4 L550.9,285.8 L551.3,296.7 L551.8,284.0 L552.2,288.9 L552.6,250.7 L553.0,262.3 L553.4,251.4 L553.8,237.1 L554.2,229.7 L554.6,259.9 L555.1,278.7 L555.5,290.4 L555.9,287.0 L556.3,296.0 L556.7,284.3 L557.1,284.4 L557.5,274.3 L557.9,254.8 L558.4,255.1 L558.8,249.0 L559.2,250.8 L559.6,264.2 L560.0,267.8 L560.4,276.4 L560.8,288.3 L561.2,295.3 L561.7,286.6 L562.1,276.2 L562.5,275.7 L562.9,261.9 L563.3,256.7 L563.7,257.8 L564.1,248.8 L564.6,255.9 L565.0,271.5 L565.4,271.8 L565.8,272.9 L566.2,280.9 L566.6,273.4 L567.0,280.0 L567.4,262.6 L567.9,266.4 L568.3,238.8 L568.7,236.7 L569.1,249.4 L569.5,262.1 L569.9,262.1 L570.3,268.0 L570.7,283.9 L571.2,278.3 L571.6,284.7 L572.0,276.8 L572.4,285.5 L572.8,249.9 L573.2,246.7 L573.6,244.8 L574.1,242.0 L574.5,264.4 L574.9,269.6 L575.3,278.2 L575.7,282.4 L576.1,284.8 L576.5,272.0 L576.9,269.2 L577.4,251.6 L577.8,242.2 L578.2,229.7 L578.6,230.1 L579.0,230.6 L579.4,252.1 L579.8,260.1 L580.2,261.5 L580.7,284.0 L581.1,274.9 L581.5,276.9 L581.9,276.4 L582.3,258.1 L582.7,257.0 L583.1,239.8 L583.5,235.5 L584.0,236.0 L584.4,258.1 L584.8,262.8 L585.2,286.9 L585.6,279.0 L586.0,271.9 L586.4,284.3 L586.9,273.4 L587.3,254.3 L587.7,246.4 L588.1,247.3 L588.5,234.8 L588.9,253.0 L589.3,245.6 L589.7,258.9 L590.2,251.9 L590.6,269.8 L591.0,269.9 L591.4,271.6 L591.8,270.7 L592.2,247.9 L592.6,252.1 L593.0,236.6 L593.5,222.4 L593.9,219.0 L594.3,225.9 L594.7,249.0 L595.1,268.9 L595.5,266.9 L595.9,274.5 L596.3,262.8 L596.8,275.2 L597.2,253.3 L597.6,244.4 L598.0,242.0 L598.4,241.4 L598.8,232.0 L599.2,238.7 L599.7,252.8 L600.1,256.7 L600.5,254.5 L600.9,263.3 L601.3,253.0 L601.7,249.9 L602.1,244.3 L602.5,233.4 L603.0,230.4 L603.4,217.4 L603.8,227.5 L604.2,240.8 L604.6,242.3 L605.0,242.2 L605.4,257.7 L605.8,273.0 L606.3,272.3 L606.7,237.9 L607.1,238.6 L607.5,225.9 L607.9,224.2 L608.3,210.3 L608.7,206.6 L609.2,238.9 L609.6,235.2 L610.0,245.6 L610.4,261.1 L610.8,264.3 L611.2,243.8 L611.6,260.1 L612.0,233.8 L612.5,227.6 L612.9,212.2 L613.3,210.2 L613.7,210.5 L614.1,233.7 L614.5,234.8 L614.9,238.3 L615.3,247.3 L615.8,260.4 L616.2,247.4 L616.6,256.1 L617.0,234.6 L617.4,232.8 L617.8,228.0 L618.2,215.9 L618.6,209.6 L619.1,230.3 L619.5,239.8 L619.9,242.6 L620.3,262.9 L620.7,265.7 L621.1,270.1 L621.5,255.3 L622.0,250.6 L622.4,231.7 L622.8,225.9 L623.2,211.2 L623.6,211.0 L624.0,231.8 L624.4,237.7 L624.8,239.7 L625.3,257.4 L625.7,253.6 L626.1,247.6 L626.5,246.2 L626.9,235.4 L627.3,231.4 L627.7,229.4 L628.1,215.0 L628.6,213.5 L629.0,236.8 L629.4,248.0 L629.8,238.9 L630.2,254.5 L630.6,242.7 L631.0,251.7 L631.5,243.3 L631.9,226.6 L632.3,221.0 L632.7,201.4 L633.1,195.4 L633.5,193.4 L633.9,222.5 L634.3,230.1 L634.8,240.0 L635.2,235.4 L635.6,241.1 L636.0,239.8 L636.4,234.9 L636.8,221.9 L637.2,208.3 L637.6,201.6 L638.1,192.1 L638.5,192.0 L638.9,212.2 L639.3,216.6 L639.7,233.2 L640.1,243.8 L640.5,242.7 L640.9,244.7 L641.4,231.1 L641.8,223.9 L642.2,220.9 L642.6,201.4 L643.0,195.6 L643.4,195.9 L643.8,218.8 L644.3,232.1 L644.7,236.5 L645.1,247.8 L645.5,249.0 L645.9,251.2 L646.3,248.0 L646.7,253.5 L647.1,218.4 L647.6,204.4 L648.0,198.7 L648.4,198.8 L648.8,213.6 L649.2,224.5 L649.6,230.1 L650.0,241.0 L650.4,239.8 L650.9,238.2 L651.3,236.9 L651.7,210.2 L652.1,200.6 L652.5,179.2 L652.9,176.4 L653.3,184.3 L653.7,197.2 L654.2,219.9 L654.6,210.3 L655.0,219.4 L655.4,225.5 L655.8,229.1 L656.2,218.8 L656.6,207.7 L657.1,198.9 L657.5,184.6 L657.9,178.3 L658.3,184.9 L658.7,203.5 L659.1,217.5 L659.5,209.4 L659.9,226.5 L660.4,234.0 L660.8,211.6 L661.2,198.8 L661.6,209.8 L662.0,195.2 L662.4,196.1 L662.8,178.3 L663.2,192.3 L663.7,200.1 L664.1,210.4 L664.5,210.9 L664.9,218.7 L665.3,233.0 L665.7,220.2 L666.1,219.0 L666.6,207.4 L667.0,196.5 L667.4,185.1 L667.8,189.9 L668.2,181.2 L668.6,202.1 L669.0,198.4 L669.4,212.7 L669.9,217.4 L670.3,225.2 L670.7,206.6 L671.1,209.9 L671.5,203.4 L671.9,190.9 L672.3,181.1 L672.7,173.4 L673.2,185.3 L673.6,195.0 L674.0,211.2 L674.4,212.6 L674.8,214.4 L675.2,232.0 L675.6,228.9 L676.0,228.0 L676.5,204.2 L676.9,200.5 L677.3,198.3 L677.7,189.1 L678.1,180.3 L678.5,205.4 L678.9,217.6 L679.4,223.2 L679.8,234.2 L680.2,234.4 L680.6,232.9 L681.0,210.5 L681.4,211.8 L681.8,192.1 L682.2,192.6 L682.7,191.8 L683.1,183.5 L683.5,177.0 L683.9,200.9 L684.3,207.0 L684.7,217.5 L685.1,227.1 L685.5,222.9 L686.0,216.6 L686.4,192.2 L686.8,191.6 L687.2,188.4 L687.6,190.4 L688.0,182.2 L688.4,199.7 L688.9,215.7 L689.3,211.9 L689.7,239.5 L690.1,217.2 L690.5,236.7 L690.9,232.6 L691.3,198.5 L691.7,177.9 L692.2,171.7 L692.6,181.8 L693.0,168.7 L693.4,198.0 L693.8,191.9 L694.2,203.3 L694.6,220.3 L695.0,219.7 L695.5,211.7 L695.9,197.6 L696.3,191.8 L696.7,176.6 L697.1,166.5 L697.5,152.2 L697.9,158.8 L698.3,177.8 L698.8,172.6 L699.2,199.4 L699.6,212.2 L700.0,211.5 L700.4,198.4 L700.8,189.0 L701.2,196.5 L701.7,174.4 L702.1,166.7 L702.5,158.5 L702.9,165.2 L703.3,182.7 L703.7,204.7 L704.1,199.4 L704.5,225.5 L705.0,226.6 L705.4,209.4 L705.8,205.7 L706.2,191.5 L706.6,178.3 L707.0,160.6 L707.4,141.4 L707.8,133.5 L708.3,166.6 L708.7,170.9 L709.1,192.2 L709.5,195.8 L709.9,206.6 L710.3,202.9 L710.7,196.4 L711.1,189.7 L711.6,163.3 L712.0,145.1 L712.4,144.1 L712.8,145.0 L713.2,167.5 L713.6,175.1 L714.0,193.7 L714.5,202.1 L714.9,201.8 L715.3,201.8 L715.7,187.2 L716.1,171.5 L716.5,160.3 L716.9,142.4 L717.3,146.3 L717.8,142.0 L718.2,161.9 L718.6,177.9 L719.0,189.7 L719.4,193.8 L719.8,200.1 L720.2,182.1 L720.6,202.3 L721.1,156.2 L721.5,155.5 L721.9,150.7 L722.3,129.0 L722.7,127.9 L723.1,149.5 L723.5,153.1 L724.0,180.4 L724.4,176.1 L724.8,172.8 L725.2,190.0 L725.6,179.2 L726.0,163.3 L726.4,148.9 L726.8,148.0 L727.3,138.0 L727.7,139.2 L728.1,161.7 L728.5,166.7 L728.9,181.6 L729.3,185.9 L729.7,197.5 L730.1,190.1 L730.6,188.7 L731.0,162.2 L731.4,146.3 L731.8,140.8 L732.2,131.7 L732.6,131.0 L733.0,158.6 L733.4,179.0 L733.9,198.8 L734.3,202.1 L734.7,202.7 L735.1,202.2 L735.5,195.6 L735.9,166.6 L736.3,155.0 L736.8,146.7 L737.2,153.5 L737.6,142.0 L738.0,161.8 L738.4,180.9 L738.8,178.7 L739.2,185.0 L739.6,195.3 L740.1,182.8 L740.5,162.1 L740.9,160.3 L741.3,161.3 L741.7,139.2 L742.1,147.4 L742.5,138.7 L742.9,160.7 L743.4,169.0 L743.8,161.1 L744.2,173.3 L744.6,194.5 L745.0,184.6 L745.4,186.0 L745.8,159.2 L746.3,144.9 L746.7,122.0 L747.1,120.3 L747.5,118.2 L747.9,145.4 L748.3,166.0 L748.7,182.8 L749.1,180.2 L749.6,194.5 L750.0,179.2 L750.4,184.9 L750.8,162.4 L751.2,133.4 L751.6,135.4 L752.0,128.4 L752.4,129.3 L752.9,156.5 L753.3,167.6 L753.7,192.3 L754.1,189.2 L754.5,193.7 L754.9,180.9 L755.3,173.8 L755.7,195.9 L756.2,149.3 L756.6,134.0 L757.0,119.4 L757.4,118.7 L757.8,156.5 L758.2,168.2 L758.6,173.0 L759.1,180.0 L759.5,186.8 L759.9,186.0 L760.3,181.3 L760.7,155.9 L761.1,136.6 L761.5,129.8 L761.9,123.4 L762.4,123.8 L762.8,164.7 L763.2,167.9 L763.6,183.6 L764.0,196.4 L764.4,197.6 L764.8,184.7 L765.2,171.5 L765.7,180.2 L766.1,144.6 L766.5,130.2 L766.9,131.0 L767.3,151.0 L767.7,144.9 L768.1,163.0 L768.5,171.4 L769.0,188.7 L769.4,171.6 L769.8,192.4 L770.2,170.7 L770.6,166.6 L771.0,137.8 L771.4,126.0 L771.9,115.3 L772.3,114.2 L772.7,147.5 L773.1,148.1 L773.5,161.4 L773.9,152.3 L774.3,165.0 L774.7,174.5 L775.2,157.1 L775.6,152.9 L776.0,149.5 L776.4,127.0 L776.8,118.7 L777.2,112.5 L777.6,143.5 L778.0,147.6 L778.5,164.8 L778.9,173.7 L779.3,173.9 L779.7,169.6 L780.1,168.1 L780.5,144.0 L780.9,124.1 L781.4,131.0 L781.8,128.9 L782.2,134.5 L782.6,119.0 L783.0,131.8 L783.4,159.2 L783.8,177.0 L784.2,175.7 L784.7,177.2 L785.1,155.9 L785.5,153.3 L785.9,138.2 L786.3,125.6 L786.7,115.8 L787.1,115.6 L787.5,143.4 L788.0,150.4 L788.4,152.7 L788.8,167.1 L789.2,167.8 L789.6,181.6 L790.0,185.6 L790.4,153.1 L790.8,138.5 L791.3,121.8 L791.7,110.5 L792.1,110.5 L792.5,136.6 L792.9,151.9 L793.3,150.9 L793.7,164.8 L794.2,153.6 L794.6,163.4 L795.0,146.6 L795.4,142.8 L795.8,130.6 L796.2,133.6 L796.6,111.2 L797.0,111.3 L797.5,131.0 L797.9,146.3 L798.3,148.6 L798.7,155.2 L799.1,177.0 L799.5,157.5 L799.9,152.0 L800.3,154.5 L800.8,123.0 L801.2,133.9 L801.6,113.6 L802.0,108.8 L802.4,137.1 L802.8,149.2 L803.2,142.9 L803.7,165.0 L804.0,165.0" stroke="#6e8254" stroke-width="1.85" opacity="0.68"/>
<line x1="46.9" x2="804.9" y1="413.85" y2="413.85" stroke="#000" stroke-width="1.9" stroke-linecap="butt" opacity="0.92"/>
<path d="M46.3,403.0 L46.7,406.0 L47.1,402.2 L47.5,401.6 L48.0,403.7 L48.4,395.6 L48.8,398.3 L49.2,398.7 L49.6,395.1 L50.0,401.5 L50.4,404.7 L50.8,398.0 L51.3,400.1 L51.7,406.5 L52.1,404.0 L52.5,404.3 L52.9,400.4 L53.3,407.4 L53.7,406.1 L54.1,405.7 L54.6,393.8 L55.0,408.1 L55.4,402.1 L55.8,395.2 L56.2,403.1 L56.6,400.7 L57.0,393.3 L57.4,393.3 L57.9,393.9 L58.3,401.3 L58.7,397.5 L59.1,395.0 L59.5,403.9 L59.9,392.0 L60.3,398.8 L60.8,389.0 L61.2,386.6 L61.6,384.1 L62.0,398.9 L62.4,398.0 L62.8,389.1 L63.2,391.1 L63.6,382.8 L64.1,383.8 L64.5,372.7 L64.9,362.0 L65.3,361.1 L65.7,365.6 L66.1,376.7 L66.5,370.5 L66.9,365.7 L67.4,383.1 L67.8,379.7 L68.2,379.7 L68.6,382.6 L69.0,382.8 L69.4,382.3 L69.8,374.9 L70.3,381.4 L70.7,378.8 L71.1,385.8 L71.5,377.3 L71.9,372.5 L72.3,372.5 L72.7,385.8 L73.1,375.9 L73.6,372.7 L74.0,372.7 L74.4,376.4 L74.8,385.3 L75.2,384.2 L75.6,405.1 L76.0,401.3 L76.4,404.1 L76.9,415.5 L77.3,417.6 L77.7,412.8 L78.1,415.6 L78.5,420.6 L78.9,417.1 L79.3,409.5 L79.7,421.6 L80.2,424.4 L80.6,424.4 L81.0,413.0 L81.4,413.5 L81.8,409.7 L82.2,410.0 L82.6,419.4 L83.1,417.7 L83.5,418.3 L83.9,417.1 L84.3,419.1 L84.7,417.2 L85.1,418.1 L85.5,416.1 L85.9,421.8 L86.4,440.4 L86.8,441.1 L87.2,434.8 L87.6,434.4 L88.0,431.7 L88.4,434.0 L88.8,431.2 L89.2,413.9 L89.7,419.2 L90.1,410.9 L90.5,419.8 L90.9,410.9 L91.3,416.5 L91.7,400.2 L92.1,394.9 L92.6,395.7 L93.0,399.4 L93.4,395.2 L93.8,379.6 L94.2,382.8 L94.6,380.6 L95.0,374.7 L95.4,369.4 L95.9,382.5 L96.3,369.4 L96.7,364.4 L97.1,374.0 L97.5,377.0 L97.9,379.2 L98.3,387.3 L98.7,389.2 L99.2,390.6 L99.6,391.8 L100.0,390.9 L100.4,380.9 L100.8,377.8 L101.2,374.6 L101.6,378.1 L102.0,372.5 L102.5,372.5 L102.9,373.8 L103.3,372.5 L103.7,372.5 L104.1,383.1 L104.5,382.4 L104.9,391.4 L105.4,388.0 L105.8,385.1 L106.2,386.6 L106.6,387.3 L107.0,388.9 L107.4,384.5 L107.8,386.0 L108.2,383.1 L108.7,383.7 L109.1,383.1 L109.5,383.1 L109.9,390.4 L110.3,393.9 L110.7,397.0 L111.1,384.2 L111.5,394.2 L112.0,403.5 L112.4,406.9 L112.8,396.8 L113.2,405.1 L113.6,417.1 L114.0,402.3 L114.4,412.8 L114.8,422.3 L115.3,414.9 L115.7,426.8 L116.1,423.0 L116.5,428.0 L116.9,433.8 L117.3,447.1 L117.7,453.5 L118.2,462.1 L118.6,447.3 L119.0,442.6 L119.4,443.9 L119.8,438.2 L120.2,420.0 L120.6,425.1 L121.0,415.6 L121.5,418.4 L121.9,417.5 L122.3,421.2 L122.7,415.0 L123.1,402.6 L123.5,401.4 L123.9,407.9 L124.3,404.1 L124.8,410.9 L125.2,407.4 L125.6,398.0 L126.0,407.2 L126.4,403.8 L126.8,398.7 L127.2,430.7 L127.7,417.1 L128.1,435.5 L128.5,447.7 L128.9,450.4 L129.3,443.0 L129.7,457.4 L130.1,441.7 L130.5,441.7 L131.0,441.7 L131.4,456.0 L131.8,459.8 L132.2,456.2 L132.6,440.7 L133.0,432.5 L133.4,417.8 L133.8,416.8 L134.3,420.0 L134.7,411.8 L135.1,411.9 L135.5,401.6 L135.9,400.7 L136.3,404.5 L136.7,406.1 L137.1,413.4 L137.6,414.2 L138.0,420.7 L138.4,417.5 L138.8,415.6 L139.2,410.9 L139.6,416.9 L140.0,424.4 L140.5,417.6 L140.9,421.6 L141.3,429.4 L141.7,427.0 L142.1,424.8 L142.5,435.8 L142.9,434.1 L143.3,437.9 L143.8,446.5 L144.2,451.0 L144.6,443.9 L145.0,442.5 L145.4,449.4 L145.8,450.3 L146.2,443.0 L146.6,459.9 L147.1,458.5 L147.5,454.7 L147.9,434.7 L148.3,440.4 L148.7,423.5 L149.1,416.7 L149.5,401.2 L150.0,400.6 L150.4,395.3 L150.8,389.4 L151.2,387.4 L151.6,386.9 L152.0,396.5 L152.4,391.7 L152.8,388.8 L153.3,395.1 L153.7,402.5 L154.1,403.1 L154.5,403.1 L154.9,386.1 L155.3,392.3 L155.7,399.4 L156.1,389.4 L156.6,380.0 L157.0,389.2 L157.4,391.0 L157.8,403.9 L158.2,407.6 L158.6,421.6 L159.0,422.7 L159.4,417.6 L159.9,428.6 L160.3,438.0 L160.7,434.7 L161.1,438.8 L161.5,431.0 L161.9,453.7 L162.3,453.2 L162.8,445.4 L163.2,444.8 L163.6,450.4 L164.0,455.4 L164.4,447.5 L164.8,445.6 L165.2,431.9 L165.6,425.7 L166.1,436.4 L166.5,435.5 L166.9,429.8 L167.3,431.9 L167.7,411.2 L168.1,403.4 L168.5,405.8 L168.9,406.4 L169.4,387.1 L169.8,386.6 L170.2,364.1 L170.6,357.5 L171.0,361.2 L171.4,362.0 L171.8,383.3 L172.2,401.9 L172.7,403.6 L173.1,409.5 L173.5,426.4 L173.9,417.9 L174.3,418.4 L174.7,429.4 L175.1,433.7 L175.6,454.5 L176.0,454.3 L176.4,439.8 L176.8,433.1 L177.2,452.4 L177.6,431.5 L178.0,422.7 L178.4,426.3 L178.9,435.2 L179.3,438.3 L179.7,434.8 L180.1,435.3 L180.5,451.2 L180.9,447.1 L181.3,430.6 L181.7,441.8 L182.2,439.6 L182.6,430.1 L183.0,424.9 L183.4,424.6 L183.8,420.5 L184.2,420.5 L184.6,430.9 L185.1,425.4 L185.5,439.3 L185.9,432.3 L186.3,441.4 L186.7,445.7 L187.1,455.5 L187.5,448.6 L187.9,434.6 L188.4,431.1 L188.8,421.9 L189.2,418.1 L189.6,419.3 L190.0,417.4 L190.4,418.3 L190.8,397.1 L191.2,409.6 L191.7,408.0 L192.1,395.0 L192.5,386.6 L192.9,387.7 L193.3,392.8 L193.7,385.2 L194.1,386.9 L194.5,387.0 L195.0,384.5 L195.4,390.0 L195.8,398.4 L196.2,392.5 L196.6,397.9 L197.0,395.5 L197.4,396.1 L197.9,404.5 L198.3,411.0 L198.7,401.2 L199.1,388.7 L199.5,395.8 L199.9,387.8 L200.3,389.1 L200.7,399.6 L201.2,394.2 L201.6,386.2 L202.0,386.2 L202.4,394.1 L202.8,390.4 L203.2,394.1 L203.6,399.5 L204.0,395.5 L204.5,393.8 L204.9,390.0 L205.3,390.5 L205.7,392.3 L206.1,396.7 L206.5,401.3 L206.9,408.0 L207.4,407.5 L207.8,410.6 L208.2,417.2 L208.6,408.7 L209.0,411.6 L209.4,408.4 L209.8,421.3 L210.2,417.7 L210.7,418.4 L211.1,421.3 L211.5,419.4 L211.9,412.4 L212.3,414.8 L212.7,402.1 L213.1,406.8 L213.5,406.3 L214.0,402.1 L214.4,416.2 L214.8,410.3 L215.2,420.6 L215.6,418.3 L216.0,429.0 L216.4,434.6 L216.8,425.0 L217.3,419.5 L217.7,427.2 L218.1,433.8 L218.5,425.5 L218.9,419.7 L219.3,424.0 L219.7,411.3 L220.2,409.8 L220.6,408.2 L221.0,412.6 L221.4,407.1 L221.8,406.3 L222.2,406.3 L222.6,406.3 L223.0,407.9 L223.5,407.8 L223.9,411.5 L224.3,411.8 L224.7,424.8 L225.1,423.3 L225.5,429.2 L225.9,432.5 L226.3,426.3 L226.8,435.9 L227.2,439.1 L227.6,440.6 L228.0,437.1 L228.4,436.9 L228.8,446.4 L229.2,446.5 L229.6,441.6 L230.1,444.3 L230.5,437.6 L230.9,442.6 L231.3,440.5 L231.7,442.2 L232.1,427.1 L232.5,426.1 L233.0,425.0 L233.4,426.4 L233.8,422.9 L234.2,421.7 L234.6,428.8 L235.0,432.1 L235.4,412.8 L235.8,413.0 L236.3,417.9 L236.7,415.9 L237.1,412.1 L237.5,406.4 L237.9,405.2 L238.3,412.9 L238.7,416.2 L239.1,411.3 L239.6,402.2 L240.0,405.2 L240.4,403.0 L240.8,407.1 L241.2,404.6 L241.6,398.0 L242.0,401.5 L242.5,396.2 L242.9,403.5 L243.3,404.5 L243.7,396.2 L244.1,400.7 L244.5,396.2 L244.9,409.2 L245.3,413.9 L245.8,408.9 L246.2,417.4 L246.6,411.8 L247.0,411.0 L247.4,413.5 L247.8,419.4 L248.2,422.2 L248.6,428.3 L249.1,425.0 L249.5,434.5 L249.9,436.8 L250.3,431.7 L250.7,423.5 L251.1,432.8 L251.5,435.2 L251.9,423.9 L252.4,409.8 L252.8,413.5 L253.2,421.1 L253.6,397.8 L254.0,405.2 L254.4,399.9 L254.8,392.4 L255.3,397.6 L255.7,390.2 L256.1,393.5 L256.5,400.6 L256.9,400.1 L257.3,392.3 L257.7,390.9 L258.1,389.7 L258.6,389.7 L259.0,400.0 L259.4,392.8 L259.8,389.7 L260.2,389.7 L260.6,389.7 L261.0,398.5 L261.4,396.9 L261.9,419.4 L262.3,411.5 L262.7,411.2 L263.1,421.1 L263.5,433.0 L263.9,435.0 L264.3,428.3 L264.8,431.9 L265.2,433.6 L265.6,438.2 L266.0,439.0 L266.4,431.6 L266.8,431.0 L267.2,438.0 L267.6,434.3 L268.1,446.5 L268.5,445.8 L268.9,435.5 L269.3,436.2 L269.7,434.0 L270.1,434.9 L270.5,441.7 L270.9,428.8 L271.4,428.0 L271.8,430.2 L272.2,429.8 L272.6,431.6 L273.0,433.5 L273.4,429.2 L273.8,434.0 L274.2,423.2 L274.7,425.5 L275.1,419.0 L275.5,417.8 L275.9,423.7 L276.3,425.9 L276.7,415.6 L277.1,413.9 L277.6,417.9 L278.0,423.8 L278.4,414.3 L278.8,412.6 L279.2,403.0 L279.6,419.9 L280.0,415.5 L280.4,414.5 L280.9,411.2 L281.3,410.8 L281.7,407.1 L282.1,399.1 L282.5,407.3 L282.9,407.0 L283.3,417.3 L283.7,408.1 L284.2,408.3 L284.6,418.2 L285.0,424.8 L285.4,423.0 L285.8,417.3 L286.2,419.8 L286.6,417.3 L287.0,424.8 L287.5,426.1 L287.9,428.0 L288.3,426.9 L288.7,420.9 L289.1,429.8 L289.5,429.8 L289.9,429.8 L290.4,425.3 L290.8,427.5 L291.2,415.3 L291.6,417.0 L292.0,404.6 L292.4,396.4 L292.8,402.1 L293.2,399.7 L293.7,407.2 L294.1,391.9 L294.5,387.8 L294.9,376.6 L295.3,376.5 L295.7,376.5 L296.1,381.7 L296.5,378.8 L297.0,396.9 L297.4,407.3 L297.8,401.6 L298.2,416.5 L298.6,414.0 L299.0,423.0 L299.4,419.7 L299.9,430.3 L300.3,422.7 L300.7,433.5 L301.1,431.5 L301.5,435.5 L301.9,440.1 L302.3,438.5 L302.7,435.3 L303.2,439.2 L303.6,439.1 L304.0,427.0 L304.4,433.0 L304.8,435.8 L305.2,426.3 L305.6,430.9 L306.0,419.8 L306.5,433.0 L306.9,425.6 L307.3,422.1 L307.7,428.2 L308.1,418.7 L308.5,419.1 L308.9,405.8 L309.3,403.2 L309.8,397.0 L310.2,399.5 L310.6,408.0 L311.0,403.3 L311.4,406.2 L311.8,394.0 L312.2,394.0 L312.7,394.0 L313.1,402.0 L313.5,404.4 L313.9,403.5 L314.3,408.8 L314.7,406.0 L315.1,407.1 L315.5,416.0 L316.0,408.7 L316.4,412.4 L316.8,421.8 L317.2,418.7 L317.6,422.9 L318.0,416.4 L318.4,429.7 L318.8,413.7 L319.3,415.8 L319.7,418.0 L320.1,434.6 L320.5,434.6 L320.9,431.3 L321.3,420.6 L321.7,426.7 L322.2,424.7 L322.6,416.4 L323.0,409.3 L323.4,407.3 L323.8,412.3 L324.2,413.9 L324.6,411.3 L325.0,407.7 L325.5,399.8 L325.9,402.2 L326.3,396.9 L326.7,400.6 L327.1,404.0 L327.5,396.0 L327.9,392.1 L328.3,402.0 L328.8,400.1 L329.2,391.8 L329.6,390.3 L330.0,390.3 L330.4,396.7 L330.8,401.4 L331.2,394.3 L331.6,392.4 L332.1,393.7 L332.5,403.4 L332.9,394.6 L333.3,397.2 L333.7,393.3 L334.1,398.4 L334.5,385.1 L335.0,392.8 L335.4,387.1 L335.8,385.5 L336.2,388.7 L336.6,392.4 L337.0,375.3 L337.4,383.2 L337.8,383.5 L338.3,380.6 L338.7,393.5 L339.1,390.8 L339.5,399.1 L339.9,390.6 L340.3,387.5 L340.7,402.8 L341.1,410.9 L341.6,410.2 L342.0,413.3 L342.4,407.3 L342.8,402.2 L343.2,411.0 L343.6,428.0 L344.0,411.5 L344.4,418.1 L344.9,415.9 L345.3,426.6 L345.7,433.4 L346.1,418.8 L346.5,416.8 L346.9,425.5 L347.3,415.3 L347.8,401.6 L348.2,394.4 L348.6,389.0 L349.0,398.8 L349.4,389.8 L349.8,397.8 L350.2,396.9 L350.6,383.9 L351.1,378.9 L351.5,384.5 L351.9,379.7 L352.3,377.1 L352.7,360.9 L353.1,371.8 L353.5,360.6 L353.9,358.3 L354.4,358.3 L354.8,366.7 L355.2,386.7 L355.6,379.2 L356.0,374.1 L356.4,400.6 L356.8,398.7 L357.3,399.0 L357.7,396.3 L358.1,399.1 L358.5,420.2 L358.9,416.0 L359.3,415.0 L359.7,411.8 L360.1,419.7 L360.6,402.5 L361.0,402.1 L361.4,396.3 L361.8,391.0 L362.2,385.8 L362.6,395.6 L363.0,409.2 L363.4,404.7 L363.9,399.2 L364.3,397.0 L364.7,408.8 L365.1,409.6 L365.5,406.4 L365.9,403.4 L366.3,391.0 L366.7,400.2 L367.2,398.3 L367.6,394.2" stroke="#fa3622" stroke-width="1.85" opacity="0.88"/>
</g>
<g class="lg">
<rect x="48.4" y="84.6" width="397.7" height="70.5" fill="#fff" stroke="#646464" stroke-width="1"/>
<line x1="55.3" x2="78.3" y1="96.4" y2="96.4" stroke="#e3a87c" stroke-width="1.3"/>
<line x1="55.3" x2="78.3" y1="119.6" y2="119.6" stroke="#ea6a72" stroke-width="1.5"/>
<line x1="55.3" x2="78.3" y1="143.4" y2="143.4" stroke="#9ca789" stroke-width="1.4"/>
<text x="81.3" y="100.3" xml:space="preserve" textLength="358.5" lengthAdjust="spacingAndGlyphs">Precipitable Column Water Vapor -  20N 20S - NCEP/NCAR Reanalysis</text>
<text x="81.3" y="123.5" textLength="347" lengthAdjust="spacingAndGlyphs">Precipitable Column Water Vapor - Global - NCEP/NCAR Reanalysis</text>
<text x="81.3" y="147.3" textLength="318.5" lengthAdjust="spacingAndGlyphs">IPCC Precitable Water Vapor AR5 Forecast - RCP 6.0 Scenario</text>
</g>
<g class="yl"><text transform="translate(35.7,558.50) scale(1.02,1.11)" text-anchor="end">-3.0</text><text transform="translate(35.7,511.46) scale(1.02,1.11)" text-anchor="end">-2.0</text><text transform="translate(35.7,464.42) scale(1.02,1.11)" text-anchor="end">-1.0</text><text transform="translate(35.7,417.38) scale(1.02,1.11)" text-anchor="end">0.0</text><text transform="translate(35.7,370.34) scale(1.02,1.11)" text-anchor="end">1.0</text><text transform="translate(35.7,323.30) scale(1.02,1.11)" text-anchor="end">2.0</text><text transform="translate(35.7,276.26) scale(1.02,1.11)" text-anchor="end">3.0</text><text transform="translate(35.7,229.22) scale(1.02,1.11)" text-anchor="end">4.0</text><text transform="translate(35.7,182.18) scale(1.02,1.11)" text-anchor="end">5.0</text><text transform="translate(35.7,135.14) scale(1.02,1.11)" text-anchor="end">6.0</text><text transform="translate(35.7,88.10) scale(1.02,1.11)" text-anchor="end">7.0</text></g>
<g class="xl"><text transform="translate(49.95,598.5) rotate(-90)">1948/01</text><text transform="translate(64.83,598.5) rotate(-90)">1951/01</text><text transform="translate(79.71,598.5) rotate(-90)">1954/01</text><text transform="translate(94.59,598.5) rotate(-90)">1957/01</text><text transform="translate(109.47,598.5) rotate(-90)">1960/01</text><text transform="translate(124.35,598.5) rotate(-90)">1963/01</text><text transform="translate(139.23,598.5) rotate(-90)">1966/01</text><text transform="translate(154.11,598.5) rotate(-90)">1969/01</text><text transform="translate(168.99,598.5) rotate(-90)">1972/01</text><text transform="translate(183.87,598.5) rotate(-90)">1975/01</text><text transform="translate(198.75,598.5) rotate(-90)">1978/01</text><text transform="translate(213.63,598.5) rotate(-90)">1981/01</text><text transform="translate(228.51,598.5) rotate(-90)">1984/01</text><text transform="translate(243.39,598.5) rotate(-90)">1987/01</text><text transform="translate(258.27,598.5) rotate(-90)">1990/01</text><text transform="translate(273.15,598.5) rotate(-90)">1993/01</text><text transform="translate(288.03,598.5) rotate(-90)">1996/01</text><text transform="translate(302.91,598.5) rotate(-90)">1999/01</text><text transform="translate(317.79,598.5) rotate(-90)">2002/01</text><text transform="translate(332.67,598.5) rotate(-90)">2005/01</text><text transform="translate(347.55,598.5) rotate(-90)">2008/01</text><text transform="translate(362.43,598.5) rotate(-90)">2011/01</text><text transform="translate(377.31,598.5) rotate(-90)">2014/01</text><text transform="translate(392.19,598.5) rotate(-90)">2017/01</text><text transform="translate(407.07,598.5) rotate(-90)">2020/01</text><text transform="translate(644.85,584.1) rotate(-90)">2070</text><text transform="translate(793.65,584.1) rotate(-90)">2100</text></g>
</g>
</svg>
</body></html>
